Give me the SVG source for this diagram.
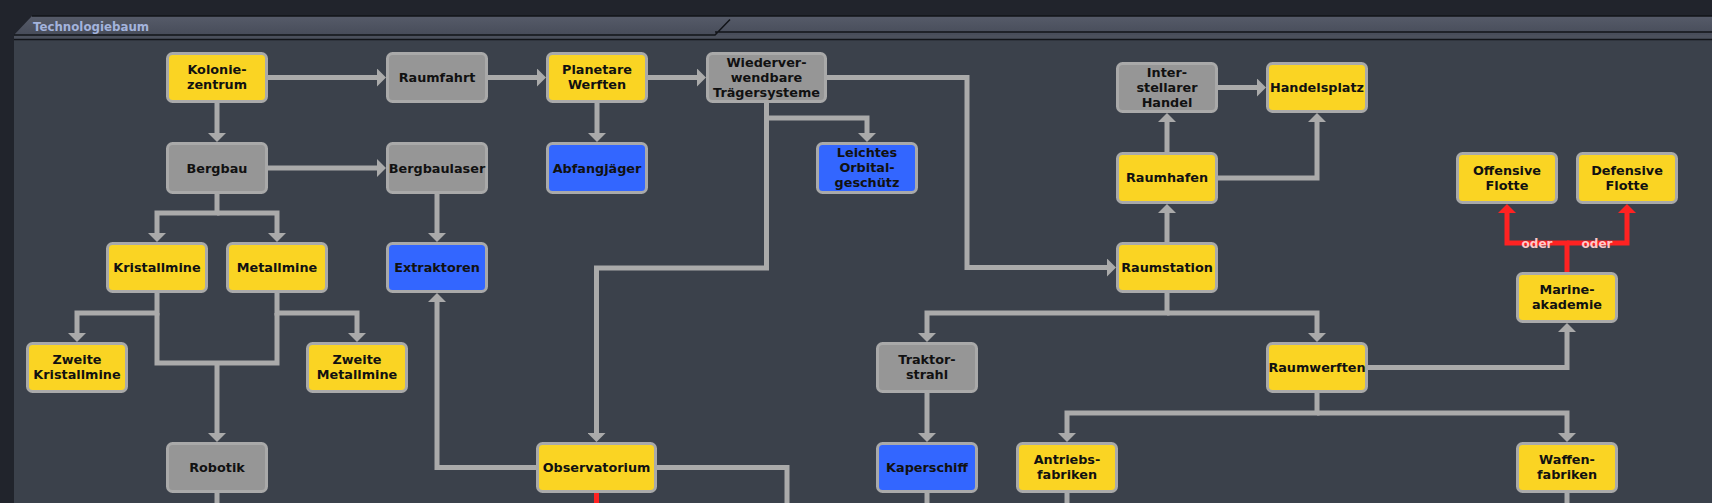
<svg xmlns="http://www.w3.org/2000/svg" width="1712" height="503" viewBox="0 0 1712 503">
<style>
.n rect{stroke:#a9a9a9;stroke-width:3}
.y rect{fill:#fad423}
.g rect{fill:#969696}
.b rect{fill:#3366ff}
.n text{font-family:"DejaVu Sans",Verdana,sans-serif;font-weight:bold;font-size:12.8px;fill:#111;text-anchor:middle}
.c path{fill:none;stroke:#aaaaaa;stroke-width:5;stroke-linejoin:miter}
.c path.a{marker-end:url(#ah)}
.c path.r{stroke:#ff2222}
.c path.ra{stroke:#ff2222;marker-end:url(#rh)}
.lbl{font-family:"DejaVu Sans",Verdana,sans-serif;font-weight:bold;font-size:12px;fill:#ffc8c8;text-anchor:middle}
.title{font-family:"DejaVu Sans",Tahoma,sans-serif;font-weight:bold;font-size:11.8px;fill:#a3b3dc}
.hl{fill:none;stroke:#121419;stroke-width:1.5}
</style>
<defs>
<marker id="ah" viewBox="0 0 9 18" refX="1" refY="9" markerWidth="9" markerHeight="18" orient="auto" markerUnits="userSpaceOnUse"><path d="M0,0 L9,9 L0,18 z" fill="#aaaaaa"/></marker>
<marker id="rh" viewBox="0 0 9 18" refX="1" refY="9" markerWidth="9" markerHeight="18" orient="auto" markerUnits="userSpaceOnUse"><path d="M0,0 L9,9 L0,18 z" fill="#ff2222"/></marker>
<linearGradient id="hg" x1="0" y1="0" x2="0" y2="1"><stop offset="0" stop-color="#565b69"/><stop offset="1" stop-color="#434855"/></linearGradient>
</defs>
<rect width="1712" height="503" fill="#21242c"/>
<rect x="14" y="40" width="1698" height="463" fill="#3b414b"/>
<g id="header">
<polygon points="14,35 32,16 1712,16 1712,40 14,40" fill="url(#hg)"/>
<rect x="14" y="35" width="1698" height="4.5" fill="#4b505c"/>
<path class="hl" d="M32,16 H1712 M14,35 H715 L730,19.5 M715,32 H1712 M14,39.5 H1712"/>
<text class="title" x="33" y="30.5">Technologiebaum</text>
</g>
<g id="connectors" class="c">
<path class="a" d="M268,77.5 H378"/>
<path class="a" d="M488,77.5 H538"/>
<path class="a" d="M648,77.5 H698"/>
<path class="a" d="M217,103 V134"/>
<path class="a" d="M597,103 V134"/>
<path class="a" d="M268,168 H378"/>
<path class="a" d="M437,194 V234"/>
<path class="a" d="M217,194 V213 H157 V234"/>
<path class="a" d="M217,213 H277 V234"/>
<path class="a" d="M157,293 V313 H77 V334"/>
<path class="a" d="M277,293 V313 H357 V334"/>
<path d="M157,313 V363 H277 V313"/>
<path class="a" d="M217,363 V434"/>
<path class="a" d="M766.5,103 V118 H867 V134"/>
<path class="a" d="M766.5,110 V268 H596.5 V434"/>
<path class="a" d="M827,77.5 H967 V267.5 H1108"/>
<path class="a" d="M536,467.5 H437 V301"/>
<path d="M657,467.5 H787 V503"/>
<path class="r" d="M596.5,493 V503"/>
<path d="M217,493 V503"/>
<path class="a" d="M1167,293 V313 H927 V334"/>
<path class="a" d="M1167,313 H1317 V334"/>
<path class="a" d="M1167,242 V212"/>
<path class="a" d="M1167,152 V121"/>
<path class="a" d="M1218,87.5 H1258"/>
<path class="a" d="M1218,178 H1317 V121"/>
<path class="a" d="M927,393 V434"/>
<path d="M927,493 V503"/>
<path class="a" d="M1368,367.5 H1567 V331"/>
<path class="a" d="M1317,393 V413 H1067 V434"/>
<path class="a" d="M1317,413 H1567 V434"/>
<path d="M1067,493 V503"/>
<path d="M1567,493 V503"/>
<path class="ra" d="M1567,272 V243 H1507 V212"/>
<path class="ra" d="M1567,243 H1627 V212"/>
<text class="lbl" x="1537" y="247.5">oder</text>
<text class="lbl" x="1597" y="247.5">oder</text>
</g>
<g id="kolonie" class="n y"><rect x="167.5" y="53.5" width="99" height="48" rx="5"/><text x="217" y="74">Kolonie-</text><text x="217" y="89">zentrum</text></g>
<g id="raumfahrt" class="n g"><rect x="387.5" y="53.5" width="99" height="48" rx="5"/><text x="437" y="81.5">Raumfahrt</text></g>
<g id="planetare" class="n y"><rect x="547.5" y="53.5" width="99" height="48" rx="5"/><text x="597" y="74">Planetare</text><text x="597" y="89">Werften</text></g>
<g id="wiederver" class="n g"><rect x="707.5" y="53.5" width="118" height="48" rx="5"/><text x="766.5" y="67">Wiederver-</text><text x="766.5" y="82">wendbare</text><text x="766.5" y="97">Trägersysteme</text></g>
<g id="bergbau" class="n g"><rect x="167.5" y="143.5" width="99" height="49" rx="5"/><text x="217" y="172.5">Bergbau</text></g>
<g id="bergbaulaser" class="n g"><rect x="387.5" y="143.5" width="99" height="49" rx="5"/><text x="437" y="172.5">Bergbaulaser</text></g>
<g id="abfangjaeger" class="n b"><rect x="547.5" y="143.5" width="99" height="49" rx="5"/><text x="597" y="172.5">Abfangjäger</text></g>
<g id="leichtes" class="n b"><rect x="817.5" y="143.5" width="99" height="49" rx="5"/><text x="867" y="157">Leichtes</text><text x="867" y="172">Orbital-</text><text x="867" y="187">geschütz</text></g>
<g id="kristallmine" class="n y"><rect x="107.5" y="243.5" width="99" height="48" rx="5"/><text x="157" y="271.5">Kristallmine</text></g>
<g id="metallmine" class="n y"><rect x="227.5" y="243.5" width="99" height="48" rx="5"/><text x="277" y="271.5">Metallmine</text></g>
<g id="extraktoren" class="n b"><rect x="387.5" y="243.5" width="99" height="48" rx="5"/><text x="437" y="271.5">Extraktoren</text></g>
<g id="zweite-kristallmine" class="n y"><rect x="27.5" y="343.5" width="99" height="48" rx="5"/><text x="77" y="364">Zweite</text><text x="77" y="379">Kristallmine</text></g>
<g id="zweite-metallmine" class="n y"><rect x="307.5" y="343.5" width="99" height="48" rx="5"/><text x="357" y="364">Zweite</text><text x="357" y="379">Metallmine</text></g>
<g id="robotik" class="n g"><rect x="167.5" y="443.5" width="99" height="48" rx="5"/><text x="217" y="471.5">Robotik</text></g>
<g id="observatorium" class="n y"><rect x="537.5" y="443.5" width="118" height="48" rx="5"/><text x="596.5" y="471.5">Observatorium</text></g>
<g id="traktorstrahl" class="n g"><rect x="877.5" y="343.5" width="99" height="48" rx="5"/><text x="927" y="364">Traktor-</text><text x="927" y="379">strahl</text></g>
<g id="kaperschiff" class="n b"><rect x="877.5" y="443.5" width="99" height="48" rx="5"/><text x="927" y="471.5">Kaperschiff</text></g>
<g id="interstellarer-handel" class="n g"><rect x="1117.5" y="63.5" width="99" height="48" rx="5"/><text x="1167" y="77">Inter-</text><text x="1167" y="92">stellarer</text><text x="1167" y="107">Handel</text></g>
<g id="handelsplatz" class="n y"><rect x="1267.5" y="63.5" width="99" height="48" rx="5"/><text x="1317" y="91.5">Handelsplatz</text></g>
<g id="raumhafen" class="n y"><rect x="1117.5" y="153.5" width="99" height="49" rx="5"/><text x="1167" y="182">Raumhafen</text></g>
<g id="raumstation" class="n y"><rect x="1117.5" y="243.5" width="99" height="48" rx="5"/><text x="1167" y="271.5">Raumstation</text></g>
<g id="offensive-flotte" class="n y"><rect x="1457.5" y="153.5" width="99" height="49" rx="5"/><text x="1507" y="174.5">Offensive</text><text x="1507" y="189.5">Flotte</text></g>
<g id="defensive-flotte" class="n y"><rect x="1577.5" y="153.5" width="99" height="49" rx="5"/><text x="1627" y="174.5">Defensive</text><text x="1627" y="189.5">Flotte</text></g>
<g id="marineakademie" class="n y"><rect x="1517.5" y="273.5" width="99" height="48" rx="5"/><text x="1567" y="294">Marine-</text><text x="1567" y="309">akademie</text></g>
<g id="raumwerften" class="n y"><rect x="1267.5" y="343.5" width="99" height="48" rx="5"/><text x="1317" y="371.5">Raumwerften</text></g>
<g id="antriebsfabriken" class="n y"><rect x="1017.5" y="443.5" width="99" height="48" rx="5"/><text x="1067" y="464">Antriebs-</text><text x="1067" y="479">fabriken</text></g>
<g id="waffenfabriken" class="n y"><rect x="1517.5" y="443.5" width="99" height="48" rx="5"/><text x="1567" y="464">Waffen-</text><text x="1567" y="479">fabriken</text></g>
</svg>
